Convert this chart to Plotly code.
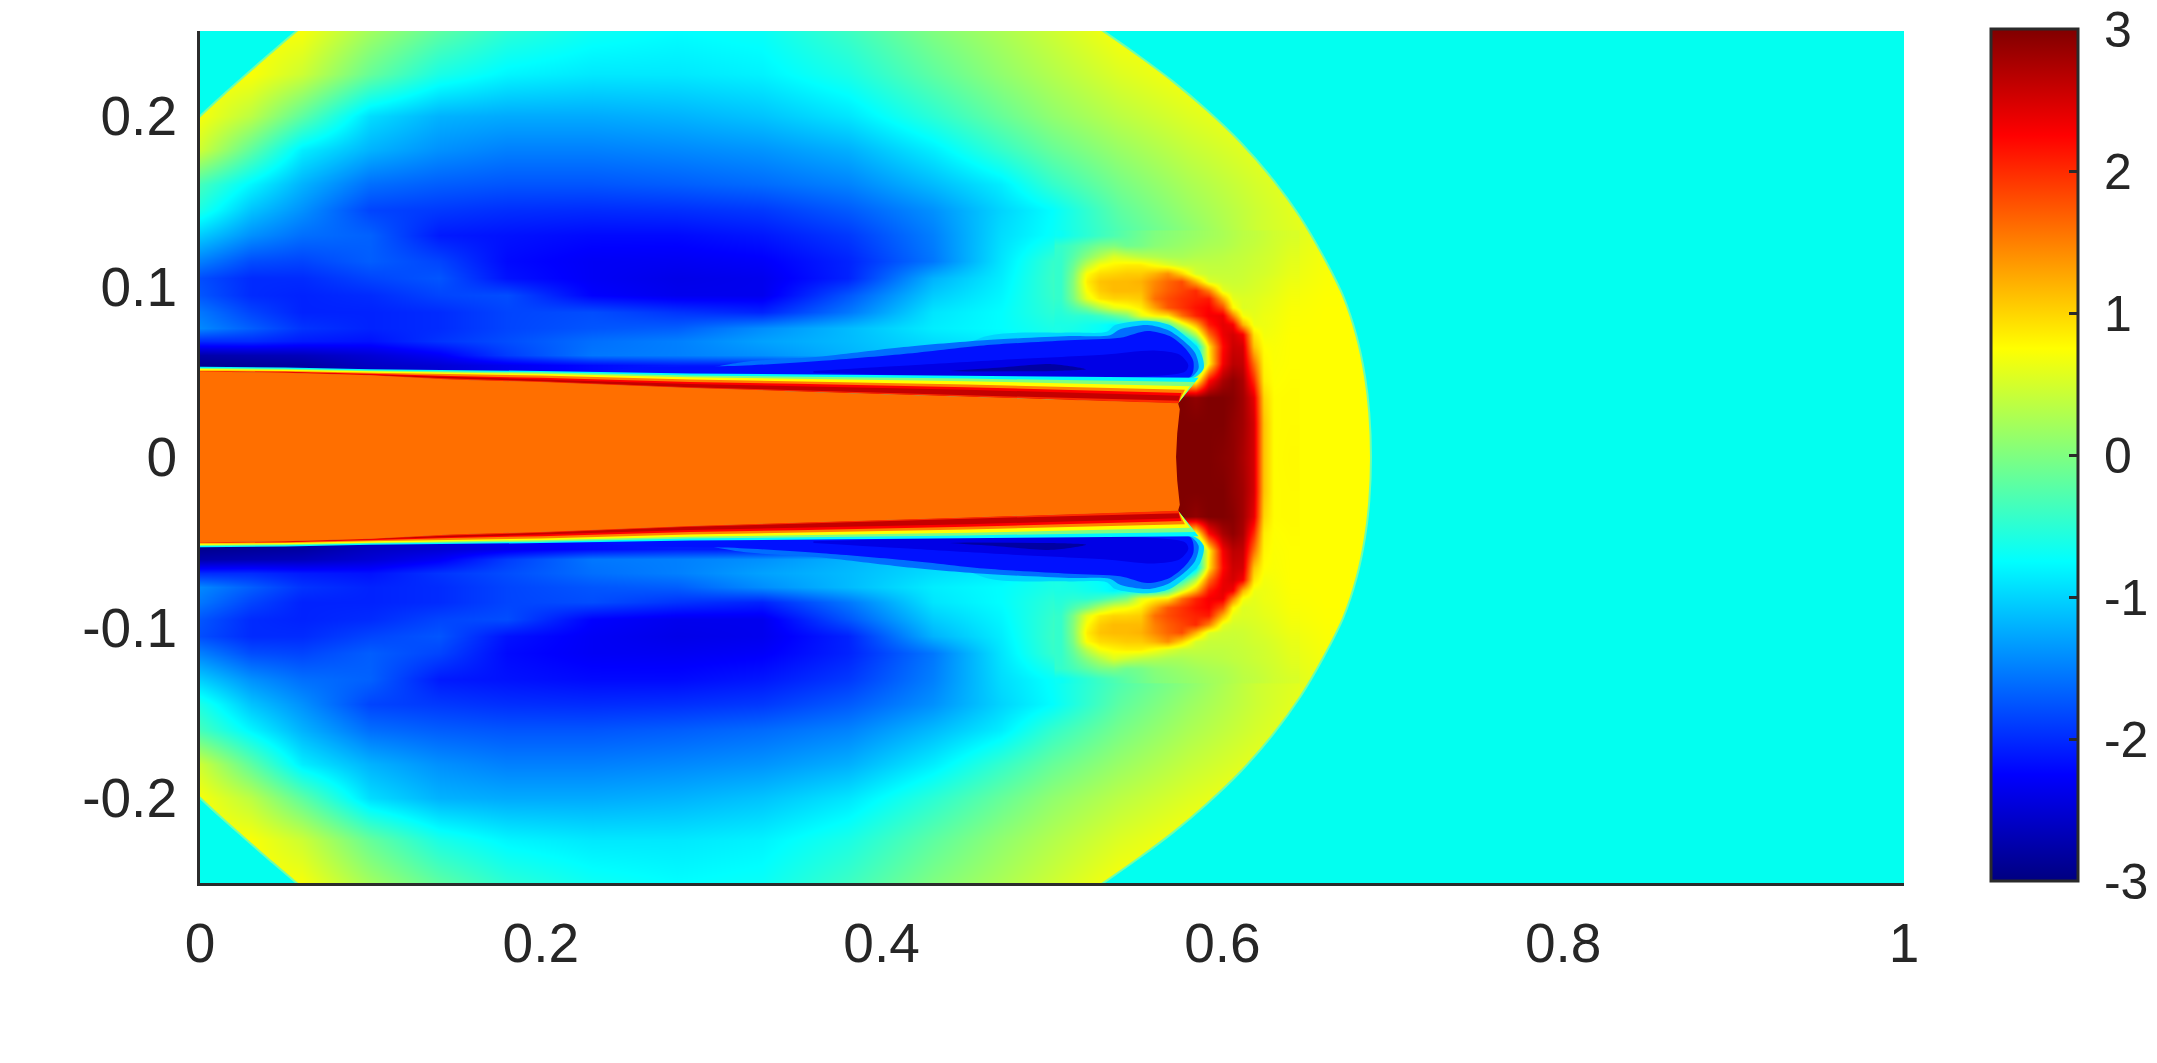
import plotly.graph_objects as go
from plotly.colors import sample_colorscale

W, H = 2157, 1063

jet = [[0, "rgb(0,0,128)"], [0.125, "rgb(0,0,255)"], [0.375, "rgb(0,255,255)"],
       [0.625, "rgb(255,255,0)"], [0.875, "rgb(255,0,0)"], [1, "rgb(128,0,0)"]]

# tick labels
x_ticks = [0, 0.2, 0.4, 0.6, 0.8, 1]
y_ticks = [-0.2, -0.1, 0, 0.1, 0.2]
c_ticks = [-3, -2, -1, 0, 1, 2, 3]

# coarse field, upper half only, the lower half is mirrored
x_base = [0, .03, .06, .1, .14, .18, .23, .28, .33, .38, .43, .47, .5, .54, .58, .62, .66, .70, 1]
y_base = [.25, .225, .2, .18, .16, .145, .13, .115, .105, .095, .085, .076, .068, .06, .054, .048, 0]
z_base = [
    [.75, .75, .7, .2, -.2, -.5, -.68, -.75, -.7, -.4, 0, .25, .45, .72, .75, .75, .75, .75, .75],
    [.75, .72, .45, -.15, -.6, -.8, -.88, -.88, -.82, -.6, -.2, .1, .3, .55, .72, .75, .75, .75, .75],
    [.7, .35, -.2, -.95, -1.2, -1.25, -1.25, -1.2, -1.1, -.9, -.5, -.15, .1, .35, .55, .72, .75, .75, .75],
    [.45, -.2, -.85, -1.2, -1.4, -1.5, -1.5, -1.45, -1.38, -1.22, -.85, -.45, -.15, .15, .4, .6, .75, .75, .75],
    [-.35, -.8, -1.2, -1.6, -1.7, -1.75, -1.75, -1.7, -1.62, -1.48, -1.15, -.85, -.45, -.05, .25, .5, .72, .75, .75],
    [-.6, -1.1, -1.4, -1.85, -1.92, -1.98, -2.0, -1.98, -1.92, -1.72, -1.4, -1.0, -.75, -.2, .15, .45, .7, .75, .75],
    [-1.05, -1.4, -1.6, -1.68, -2.1, -2.15, -2.2, -2.2, -2.12, -1.92, -1.5, -.95, -.72, -.3, .05, .45, .65, .75, .75],
    [-1.5, -1.8, -1.85, -1.7, -1.85, -2.2, -2.3, -2.32, -2.28, -2.05, -1.55, -.9, -.45, -.05, .3, .5, .7, .75, .75],
    [-1.8, -2.0, -2.0, -1.85, -1.75, -2.15, -2.3, -2.38, -2.35, -2.05, -1.2, -.85, -.42, .3, 2, .56, .72, .75, .75],
    [-1.75, -2.0, -2.05, -2.0, -1.85, -1.8, -2.25, -2.35, -2.35, -1.75, -1.05, -.8, -.44, 1, 2, .64, .74, .75, .75],
    [-1.55, -1.85, -2.05, -2.05, -2, -1.85, -1.8, -1.95, -2.05, -1.55, -.9, -.75, -.5, 0, 2.1, .69, .75, .75, .75],
    [-1.45, -1.7, -1.95, -2.05, -2, -1.85, -1.75, -1.7, -1.42, -1.15, -.85, -.75, -.6, -.7, 1.2, .73, .75, .75, .75],
    [-2, -2, -2.1, -2.15, -1.95, -1.8, -1.6, -1.5, -1.3, -1.15, -.95, -.85, -.6, -.8, .5, .75, .75, .75, .75],
    [-2.75, -2.7, -2.65, -2.5, -2.3, -1.9, -1.55, -1.5, -1.4, -1.2, -1, -.9, -.8, -.8, 0, .75, .75, .75, .75],
    [-2.9, -2.85, -2.8, -2.6, -2.5, -2.35, -2.2, -2.1, -2.1, -2, -2, -2, -2, -2, 0, .75, .75, .75, .75],
    [-2.9, -2.85, -2.8, -2.6, -2.5, -2.35, -2.2, -2.1, -2.1, -2, -2, -2, -2, -2, 0, .75, .75, .75, .75],
    [1.6, 1.6, 1.6, 1.6, 1.6, 1.6, 1.6, 1.6, 1.6, 1.6, 1.6, 1.6, 1.6, 1.6, 3, .75, .75, .75, .75],
]

# finer field around the head of the jet
x_head = [.505, .512, .52, .528, .536, .544, .552, .56, .568, .576, .584, .592, .6, .606, .612, .618, .624, .63, .64]
y_head = [.13, .124, .118, .113, .108, .103, .098, .093, .088, .083, .078, .072, .065, .055, .045, .035, .02, 0]
z_head = [
    [-.7, -.6, -.5, -.4, -.3, -.2, -.1, 0, .05, .1, .15, .2, .25, .3, .35, .38, .42, .47, .52],
    [-.45, -.35, -.2, -.05, 0, -.1, -.05, .05, .1, .15, .2, .25, .28, .32, .37, .4, .44, .48, .55],
    [-.45, -.25, .05, .3, .55, .45, .35, .3, .25, .25, .3, .32, .35, .38, .4, .44, .47, .5, .58],
    [-.45, -.15, .35, .7, .8, .85, .85, .7, .55, .42, .4, .38, .38, .4, .42, .45, .48, .52, .6],
    [-.45, -.05, .75, .95, 1, 1.05, 1.05, 1.2, 1.4, 1.0, .5, .42, .42, .42, .44, .48, .5, .54, .62],
    [-.45, .0, .85, 1.1, 1.15, 1.15, 1.2, 1.45, 1.65, 1.8, 1.2, .55, .46, .45, .46, .5, .54, .58, .65],
    [-.45, .0, .75, 1.05, 1.15, 1.15, 1.15, 1.5, 1.7, 1.85, 2, 1.5, .6, .5, .5, .53, .56, .6, .68],
    [-.45, -.05, .6, .9, 1, 1, 1.05, 1.6, 1.8, 1.95, 2.05, 2.1, 1.2, .6, .55, .56, .6, .63, .7],
    [-.5, -.3, -.05, .3, .6, .7, .85, 1.3, 1.75, 1.95, 2.15, 2.25, 1.8, .8, .55, .58, .62, .65, .72],
    [-.55, -.5, -.5, -.4, -.2, 0, .6, .8, .9, 1.6, 2.05, 2.3, 2.35, 1.5, .7, .6, .65, .67, .73],
    [-.6, -.6, -.65, -.7, -.8, -.7, -.75, -.7, -.3, .5, 1.2, 2.1, 2.4, 2.3, 1.2, .65, .65, .68, .74],
    [-.6, -.65, -.7, -.75, -.8, -.8, -.8, -.8, -.8, -.6, .3, 1.6, 2.35, 2.5, 2.3, .9, .68, .7, .75],
    [-2, -2, -2, -2, -2, -2, -2, -2, -2, -2, -1, .9, 2.2, 2.55, 2.5, 1.1, .75, .72, .75],
    [-2, -2, -2, -2, -2, -2, -2, -2, -2, -2, -1, .8, 2.3, 2.65, 2.6, 1.6, .8, .73, .75],
    [.5, .5, .5, .5, .5, .5, .5, .5, .5, .5, .6, 2.2, 2.75, 2.9, 2.75, 2.0, .85, .74, .76],
    [2.4, 2.4, 2.4, 2.4, 2.4, 2.4, 2.4, 2.4, 3, 3, 2.9, 3, 3, 2.95, 2.8, 2.4, 1.0, .76, .77],
    [1.6, 1.6, 1.6, 1.6, 1.6, 1.6, 1.6, 1.6, 3, 3, 3, 3, 3, 2.9, 2.8, 2.5, 1.1, .76, .77],
    [1.6, 1.6, 1.6, 1.6, 1.6, 1.6, 1.6, 1.6, 3, 3, 3, 3, 2.95, 2.9, 2.75, 2.5, 1.1, .76, .78],
]

# bow shock outline, upper half; the ends run past the plot edge
shock_right_x = [.505, .5321, .5516, .5711, .5908, .6103, .6298, .6455, .6593, .6710, .6788, .6837, .6862, .6872]
shock_right_y = [.267, .2486, .2349, .2203, .2036, .1850, .1626, .1410, .1175, .0941, .0706, .0471, .0258, 0]
shock_left_x = [-.02, 0, .0135, .0274, .042, .0567, .078]
shock_left_y = [.18, .2, .2125, .2248, .2375, .25, .267]

# blue pocket behind the head, nested outlines with their levels
pocket_x = [.42, .46, .51, .532, .537, .556, .569, .58, .587, .589, .582, .45, .42]
pocket_y = [.045, .0705, .073, .0735, .0775, .080, .0775, .0695, .062, .052, .046, .045, .045]
pocket2_x = [.27, .317, .365, .413, .46, .51, .534, .54, .556, .568, .578, .584, .586, .58, .45, .27]
pocket2_y = [.045, .0555, .059, .0645, .0685, .071, .0715, .075, .0775, .0745, .0675, .061, .052, .046, .045, .045]
pocket3_x = [.2, .25, .317, .365, .413, .46, .51, .54, .556, .569, .578, .583, .581, .45, .2]
pocket3_y = [.045, .052, .0535, .0565, .0605, .0655, .0685, .07, .074, .071, .064, .056, .047, .045, .045]
pocket4_x = [.36, .42, .48, .53, .56, .575, .58, .578, .36]
pocket4_y = [.0505, .054, .0575, .06, .0625, .06, .054, .05, .0495]
pocket5_x = [.44, .47, .5, .52, .5, .45]
pocket5_y = [.0505, .0525, .0545, .0515, .0505, .0502]
pocket_z = [-1.0, -1.6, -2.15, -2.4, -2.8]

# jet edge, upper half: one curve per colour level, outermost first
jet_x = [0, .05, .1, .147, .2, .2876, .35, .45]
jet_levels = [-.8, 0, .75, 1.5, 2.25, 2.6, 2.0]
jet_end_x = [.586, .584, .581, .578, .576, .575, .575]
jet_end_y = [.0465, .0440, .0415, .0395, .0375, .0360, .0330]
jet_curves = [
    [.0530, .0525, .0515, .0510, .0505, .0490, .0485, .0480],
    [.0522, .0518, .0508, .0503, .0497, .0478, .0472, .0460],
    [.0516, .0512, .0503, .0495, .0488, .0468, .0460, .0445],
    [.0508, .0505, .0495, .0487, .0478, .0455, .0445, .0425],
    [.0503, .0500, .0488, .0475, .0465, .0440, .0430, .0410],
    [.0501, .0497, .0483, .0468, .0455, .0428, .0415, .0395],
    [.0500, .0496, .0481, .0460, .0445, .0410, .0392, .0362],
]
core_top = [.0500, .0495, .0480, .0455, .0440, .0405, .0385, .0355]
core_end_x = [.574, .575, .5735, .5728]
core_end_y = [.0315, .028, .014, 0]
core_z = 1.6


def level_color(z):
    return sample_colorscale(jet, [(z + 3) / 6])[0]


def mirror(values):
    return values + [-v for v in values[::-1]][1:]


def add_patch(fig, x, y, color, shape="linear"):
    # solid region drawn in data coordinates
    fig.add_trace(go.Scatter(x=x, y=y, mode="lines", fill="toself", fillcolor=color,
                             line=dict(width=0, shape=shape, smoothing=0.8),
                             hoverinfo="skip", showlegend=False))


def add_both_sides(fig, x, y, color, shape="linear"):
    add_patch(fig, x, y, color, shape)
    add_patch(fig, x, [-v for v in y], color, shape)


fig = go.Figure()

# heatmaps run from y = -0.25 up to 0.25
neg_base = [-v for v in y_base]
fig.add_trace(go.Heatmap(
    x=x_base, y=neg_base + y_base[::-1][1:], z=z_base + z_base[::-1][1:],
    zmin=-3, zmax=3, colorscale=jet, zsmooth="best", hoverinfo="skip",
    colorbar=dict(
        xref="container", yref="container", x=1991 / W, xanchor="left",
        y=(H - 881) / H, yanchor="bottom", len=852, lenmode="pixels",
        thickness=87, thicknessmode="pixels", xpad=0, ypad=0,
        outlinecolor="#2b2b2b", outlinewidth=3, tickvals=c_ticks,
        ticktext=["\u00a0" + str(v) for v in c_ticks], ticks="inside", ticklen=10,
        tickwidth=3, tickcolor="#2b2b2b",
        tickfont=dict(family="Liberation Sans", size=50, color="#262626"),
    ),
))
neg_head = [-v for v in y_head]
fig.add_trace(go.Heatmap(
    x=x_head, y=neg_head + y_head[::-1][1:], z=z_head + z_head[::-1][1:],
    zmin=-3, zmax=3, colorscale=jet, zsmooth="best", showscale=False, hoverinfo="skip",
))

# undisturbed gas outside the shock
ambient = "#02FFF0"
rim = "#70ffa8"
right_x = shock_right_x + shock_right_x[::-1][1:]
right_y = mirror(shock_right_y)
add_patch(fig, right_x + [1.4, 1.4], right_y + [-.6, .6], ambient, "spline")
add_both_sides(fig, shock_left_x + [-.2], shock_left_y + [.5], ambient, "spline")
for xs, ys in [(right_x, right_y), (shock_left_x, shock_left_y),
               (shock_left_x, [-v for v in shock_left_y])]:
    fig.add_trace(go.Scatter(x=xs, y=ys, mode="lines",
                             line=dict(color=rim, width=2, shape="spline", smoothing=0.8),
                             hoverinfo="skip", showlegend=False))

# blue pocket
outlines = [(pocket_x, pocket_y), (pocket2_x, pocket2_y), (pocket3_x, pocket3_y),
            (pocket4_x, pocket4_y), (pocket5_x, pocket5_y)]
for (xs, ys), z in zip(outlines, pocket_z):
    add_both_sides(fig, xs, ys, level_color(z), "spline")

# jet edge bands
for curve, z, ex, ey in zip(jet_curves, jet_levels, jet_end_x, jet_end_y):
    band_x = jet_x + [ex, core_end_x[0]] + jet_x[::-1]
    band_y = curve + [ey, core_end_y[0]] + core_top[::-1]
    add_both_sides(fig, band_x, band_y, level_color(z))

# jet core
top_x = jet_x + core_end_x
top_y = core_top + core_end_y
add_patch(fig, top_x + top_x[::-1][1:], mirror(top_y), level_color(core_z))

fig.update_xaxes(
    domain=[200 / W, 1904 / W], range=[0, 1], tickvals=x_ticks,
    ticktext=[f"{v:g}" for v in x_ticks], ticks="", showgrid=False, zeroline=False,
    showline=True, linecolor="#2b2b2b", linewidth=3,
    tickfont=dict(family="Liberation Sans", size=55, color="#262626"),
    ticklabelstandoff=10,
)
fig.update_yaxes(
    domain=[(H - 883) / H, (H - 31) / H], range=[-.25, .25], tickvals=y_ticks,
    ticktext=[f"{v:g}" for v in y_ticks], ticks="", showgrid=False, zeroline=False,
    showline=True, linecolor="#2b2b2b", linewidth=3,
    tickfont=dict(family="Liberation Sans", size=55, color="#262626"),
    ticklabelstandoff=9,
)
fig.update_layout(
    width=W, height=H, autosize=False, paper_bgcolor="white", plot_bgcolor="white",
    margin=dict(l=0, r=0, t=0, b=0, autoexpand=False), showlegend=False,
    shapes=[
        dict(type="line", xref="x", yref="y", x0=1.001, x1=1.001, y0=-.25, y1=.25,
             line=dict(color="#e2e2e2", width=3)),
        dict(type="line", xref="x", yref="y", x0=0, x1=1, y0=.2505, y1=.2505,
             line=dict(color="#d8f4f0", width=1.5)),
        dict(type="line", xref="x", yref="y", x0=1.001, x1=1.001, y0=-.25, y1=-.2395,
             line=dict(color="#2b2b2b", width=3)),
    ],
)

fig.write_html("out.html", config={"displayModeBar": False},
               post_script="document.body.style.margin='0';")
